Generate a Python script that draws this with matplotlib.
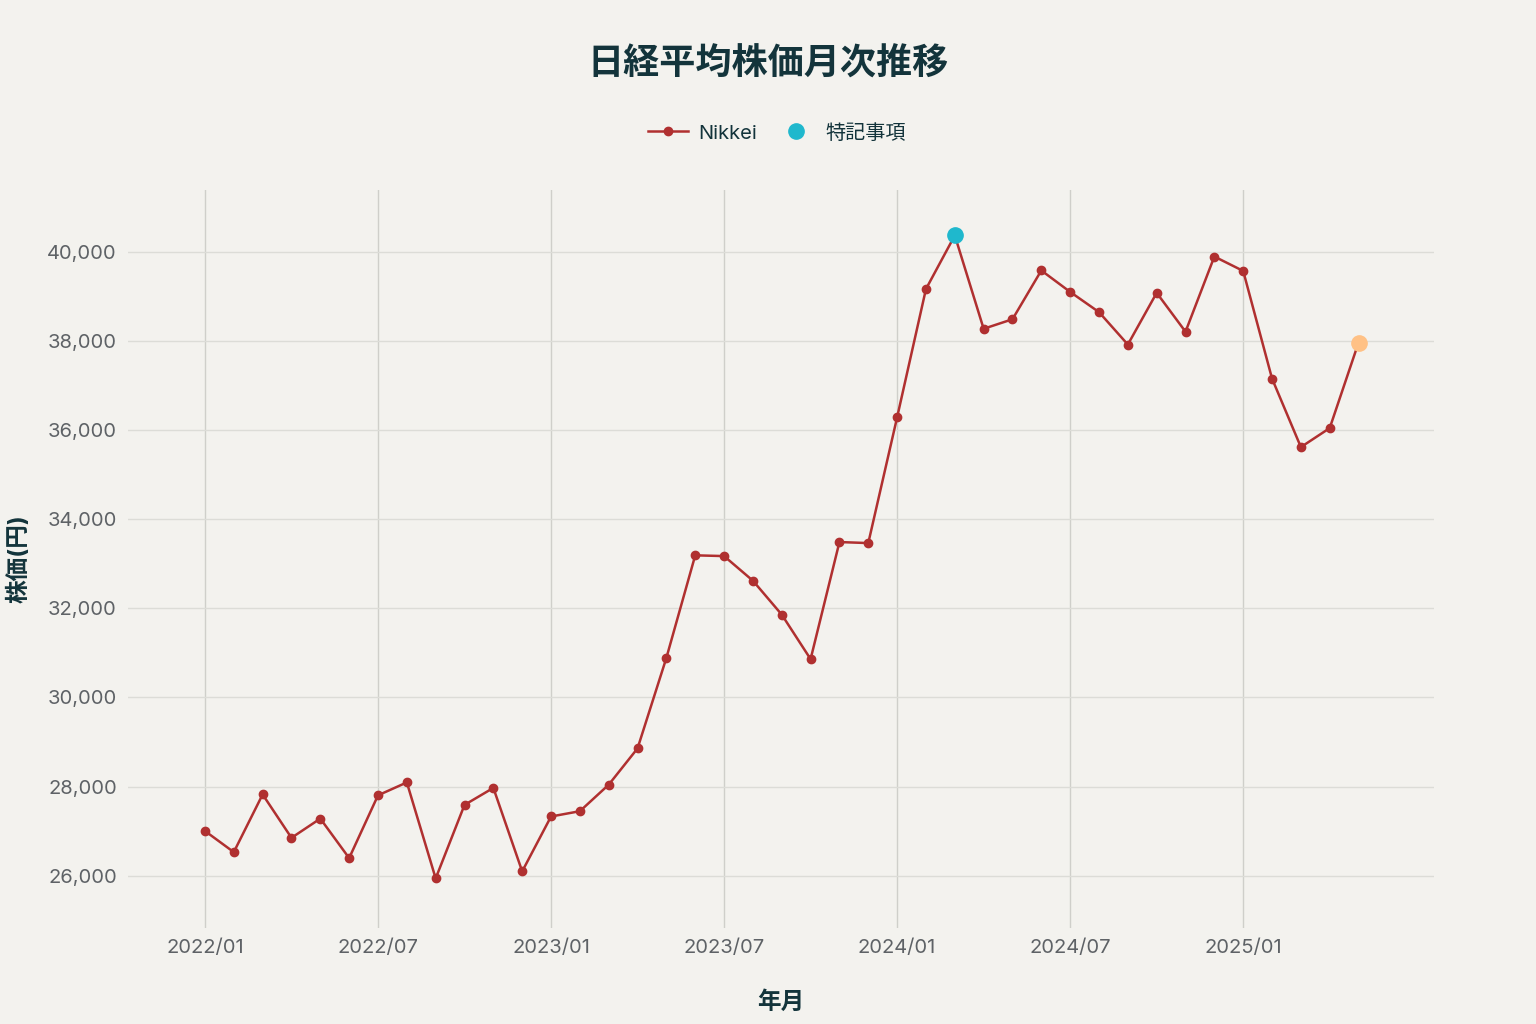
import matplotlib
matplotlib.use("Agg")
import matplotlib.pyplot as plt
from matplotlib.lines import Line2D
from matplotlib.ticker import FuncFormatter

plt.rcParams['font.family'] = ['Inter', 'Noto Sans CJK JP', 'DejaVu Sans']

# monthly closes, 2022/01 .. 2025/05
months = ['2022/01', '2022/02', '2022/03', '2022/04', '2022/05', '2022/06',
          '2022/07', '2022/08', '2022/09', '2022/10', '2022/11', '2022/12',
          '2023/01', '2023/02', '2023/03', '2023/04', '2023/05', '2023/06',
          '2023/07', '2023/08', '2023/09', '2023/10', '2023/11', '2023/12',
          '2024/01', '2024/02', '2024/03', '2024/04', '2024/05', '2024/06',
          '2024/07', '2024/08', '2024/09', '2024/10', '2024/11', '2024/12',
          '2025/01', '2025/02', '2025/03', '2025/04', '2025/05']
nikkei = [27002, 26527, 27822, 26848, 27280, 26393,
          27802, 28092, 25937, 27587, 27969, 26095,
          27327, 27446, 28041, 28856, 30888, 33189,
          33172, 32619, 31858, 30859, 33487, 33464,
          36287, 39166, 40369, 38274, 38488, 39583,
          39101, 38648, 37920, 39081, 38208, 39895,
          39572, 37156, 35618, 36045, 37965]

tick_labels = ['2022/01', '2022/07', '2023/01', '2023/07', '2024/01', '2024/07', '2025/01']
special_month = '2024/03'
latest_month = '2025/05'

xs = list(range(len(months)))
tick_pos = [months.index(t) for t in tick_labels]

bg = '#f3f2ee'
lineColor = '#b03030'
textColor = '#13343b'

fig = plt.figure(figsize=(15.36, 10.24), dpi=100, facecolor=bg)
ax = fig.add_axes([0.0833, 0.094, 0.850, 0.7205])
ax.set_facecolor(bg)

ax.plot(xs, nikkei, color=lineColor, linewidth=1.8, marker='o', markersize=6, zorder=3)

si = months.index(special_month)
ax.plot([si], [nikkei[si]], 'o', color='#1fb8cd', markersize=11, zorder=4)
li = months.index(latest_month)
ax.plot([li], [nikkei[li]], 'o', color='#ffc185', markersize=11, zorder=4)

ax.set_xlim(-2.67, 42.6)
ax.set_ylim(24830, 41390)
ax.set_xticks(tick_pos)
ax.set_xticklabels(tick_labels)
ax.set_yticks(range(26000, 40001, 2000))
ax.yaxis.set_major_formatter(FuncFormatter(lambda v, p: '{:,.0f}'.format(v)))

ax.grid(axis='x', color='#cfcfca', linewidth=1)
ax.grid(axis='y', color='#dcdcd7', linewidth=1)
ax.set_axisbelow(True)
for s in ax.spines.values():
    s.set_visible(False)
ax.tick_params(length=0, labelsize=14.5, labelcolor='#5e6266', pad=8)
ax.tick_params(axis='x', pad=8)

ax.set_xlabel('年月', fontsize=17, fontweight='bold', color=textColor, labelpad=25)
ax.set_ylabel('株価(円)', fontsize=17, fontweight='bold', color=textColor, labelpad=12)

fig.text(0.5, 0.937, '日経平均株価月次推移', ha='center', va='center',
         fontsize=26, fontweight='bold', color=textColor)

handles = [Line2D([], [], color=lineColor, linewidth=1.8, marker='o', markersize=6),
           Line2D([], [], color='#1fb8cd', linestyle='none', marker='o', markersize=11)]
fig.legend(handles, ['Nikkei', '特記事項'], loc='center', bbox_to_anchor=(0.506, 0.870),
           ncol=2, frameon=False, fontsize=14.5, handlelength=2.0, handletextpad=0.5,
           columnspacing=0.9, labelcolor=textColor)

fig.savefig('out.png', dpi=100, facecolor=bg)
